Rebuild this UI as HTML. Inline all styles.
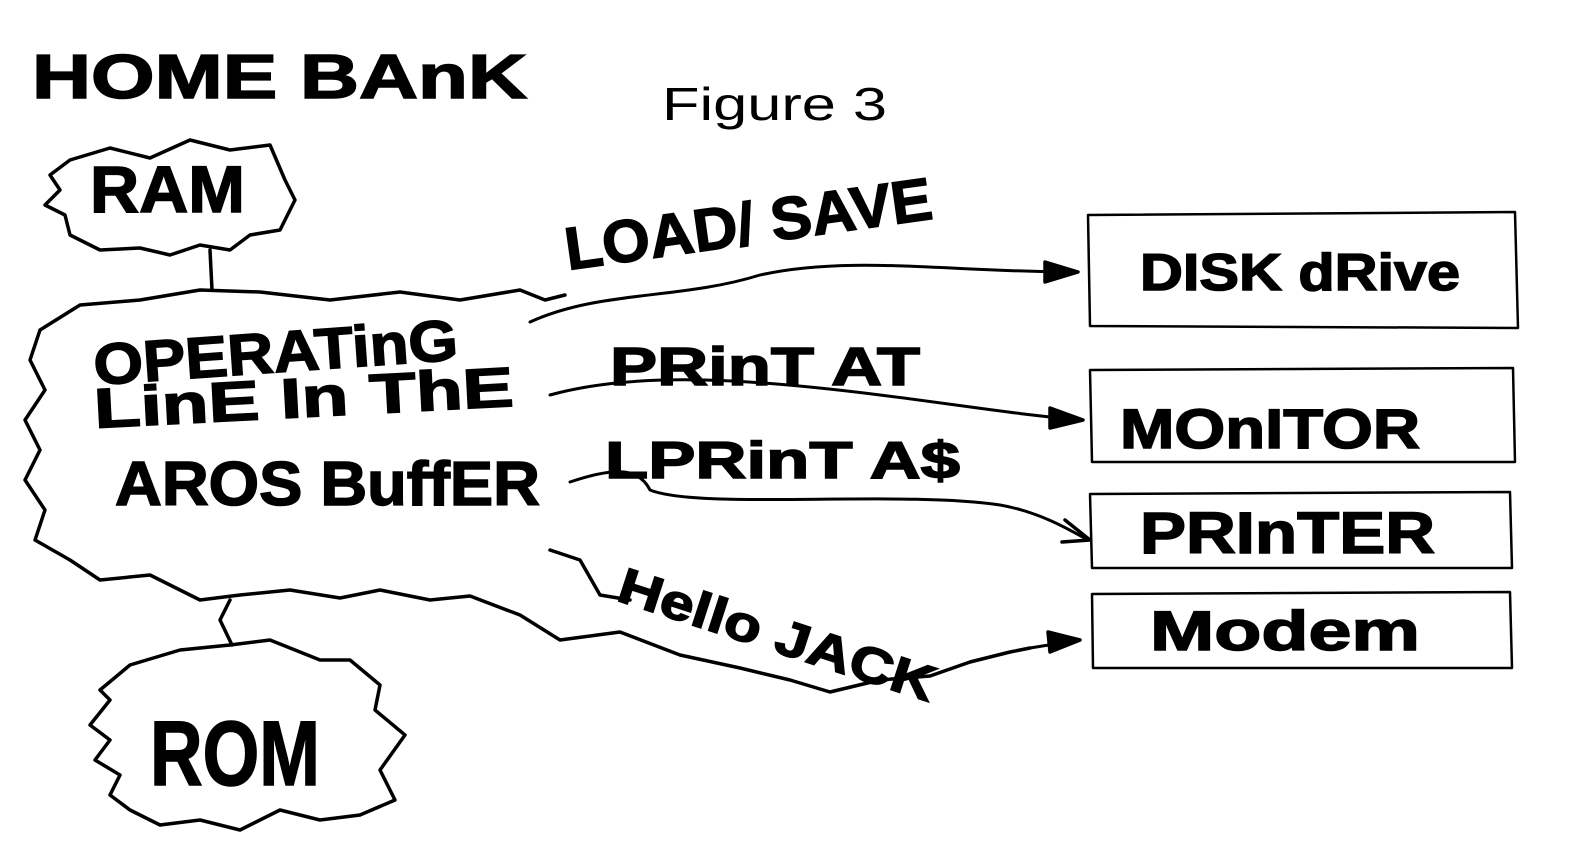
<!DOCTYPE html>
<html><head><meta charset="utf-8"><style>
html,body{margin:0;padding:0;background:#fff;}
svg{display:block}
.h{font-family:"Liberation Sans",sans-serif;font-weight:bold;fill:#000;stroke:#000;stroke-width:1.5;}
</style></head><body>
<svg width="1582" height="862" viewBox="0 0 1582 862" xmlns="http://www.w3.org/2000/svg">
<rect width="1582" height="862" fill="#fff"/>
<g fill="none" stroke="#000" stroke-width="3.5" stroke-linejoin="round" stroke-linecap="round">
<path d="M70,160 L110,148 L150,158 L190,140 L230,150 L270,145 L285,180 L295,200 L280,230 L250,235 L230,250 L200,245 L170,255 L140,248 L100,250 L70,235 L65,215 L45,205 L60,190 L50,175 Z"/>
<path d="M210,250 L212,290"/>
<path d="M40,330 L80,305 L140,300 L200,290 L260,292 L330,300 L400,292 L460,300 L520,290 L545,300 L565,295 M40,330 L30,360 L45,390 L25,420 L40,450 L25,480 L45,510 L35,540 L70,560 L100,580 L150,575 L200,600 L240,595 L290,590 L340,598 L380,590 L430,600 L470,596 L520,615 L560,640 L620,632 L680,655 L740,668 L790,680 L830,692 L880,680 L930,676 L970,662 L1010,652 L1030,648"/>
<path d="M550,550 L580,560 L600,595 L630,600"/>
<path d="M230,600 L220,620 L232,645"/>
<path d="M130,665 L180,650 L230,645 L270,640 L320,660 L350,660 L380,685 L375,710 L405,735 L380,770 L395,800 L360,815 L320,820 L280,810 L240,830 L200,820 L160,825 L130,810 L110,795 L120,775 L95,760 L110,740 L90,725 L110,700 L100,690 Z"/>
<path d="M1088,215 L1515,212 L1518,328 L1090,326 Z" stroke-width="2.5"/>
<path d="M1090,370 L1513,368 L1515,462 L1092,462 Z" stroke-width="2.5"/>
<path d="M1090,494 L1510,492 L1512,568 L1092,568 Z" stroke-width="2.5"/>
<path d="M1092,594 L1510,592 L1512,668 L1093,668 Z" stroke-width="2.5"/>
<path d="M530,322 C600,290 680,300 760,275 C850,255 950,272 1075,272" stroke-width="3"/>
<path d="M1045,262 L1078,272 L1045,282 Z" fill="#000"/>
<path d="M550,395 C640,370 760,380 880,395 C960,405 1020,415 1082,420" stroke-width="3"/>
<path d="M1050,408 L1083,420 L1050,428 Z" fill="#000"/>
<path d="M570,482 C620,465 640,470 650,490 C700,510 900,490 1000,505 C1040,512 1070,530 1088,540" stroke-width="3"/>
<path d="M1065,520 L1090,540 L1062,542" />
<path d="M1030,648 L1080,640" stroke-width="3"/>
<path d="M1048,632 L1080,640 L1050,652 Z" fill="#000"/>
</g>
<text x="32" y="98" class="h" font-size="62" textLength="495" lengthAdjust="spacingAndGlyphs">HOME BAnK</text>
<text x="662" y="120" font-family="Liberation Sans,sans-serif" font-size="46" fill="#000" textLength="225" lengthAdjust="spacingAndGlyphs">Figure 3</text>
<text x="90" y="212" class="h" font-size="66" textLength="155" lengthAdjust="spacingAndGlyphs">RAM</text>
<text x="95" y="385" class="h" font-size="58" transform="rotate(-4 95 385)" textLength="365" lengthAdjust="spacingAndGlyphs">OPERATinG</text>
<text x="95" y="428" class="h" font-size="56" transform="rotate(-3 95 428)" textLength="420" lengthAdjust="spacingAndGlyphs">LinE In ThE</text>
<text x="115" y="505" class="h" font-size="62" textLength="425" lengthAdjust="spacingAndGlyphs">AROS BuffER</text>
<text x="150" y="785" class="h" font-size="92" textLength="170" lengthAdjust="spacingAndGlyphs">ROM</text>
<text x="568" y="270" class="h" font-size="60" transform="rotate(-8 568 270)" textLength="370" lengthAdjust="spacingAndGlyphs">LOAD/ SAVE</text>
<text x="610" y="385" class="h" font-size="54" textLength="310" lengthAdjust="spacingAndGlyphs">PRinT AT</text>
<text x="605" y="478" class="h" font-size="52" textLength="355" lengthAdjust="spacingAndGlyphs">LPRinT A$</text>
<text x="615" y="600" class="h" font-size="50" transform="rotate(18 615 600)" textLength="330" lengthAdjust="spacingAndGlyphs">Hello JACK</text>
<text x="1140" y="290" class="h" font-size="52" textLength="320" lengthAdjust="spacingAndGlyphs">DISK dRive</text>
<text x="1120" y="448" class="h" font-size="56" textLength="300" lengthAdjust="spacingAndGlyphs">MOnITOR</text>
<text x="1140" y="553" class="h" font-size="58" textLength="295" lengthAdjust="spacingAndGlyphs">PRInTER</text>
<text x="1150" y="650" class="h" font-size="56" textLength="270" lengthAdjust="spacingAndGlyphs">Modem</text>
</svg>
</body></html>
